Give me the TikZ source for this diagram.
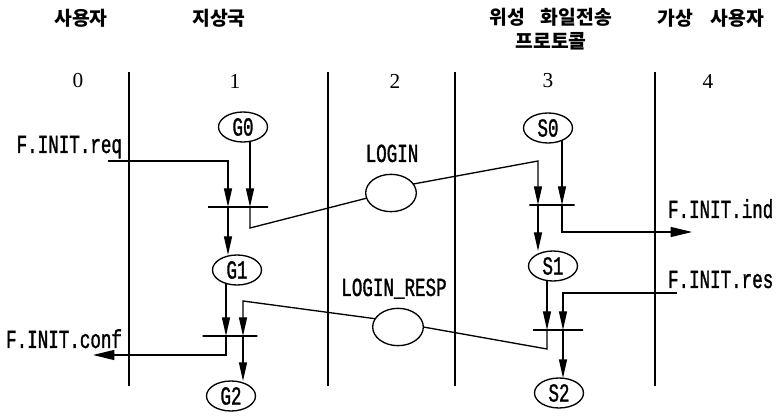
\documentclass[tikz,border=0pt]{standalone}
\usepackage{fontspec}
\usetikzlibrary{arrows.meta,shapes.geometric,backgrounds}

\newfontfamily\kofont{Noto Sans CJK KR}
\newfontfamily\sigfont{Liberation Mono}[FakeStretch=0.675, FakeBold=1.2]
\newfontfamily\numfont{Liberation Serif}

\begin{document}
\begin{tikzpicture}[
  x=0.75pt,
  y=-0.75pt,
  every node/.style={inner sep=0pt, outer sep=0pt},
  head/.style={font=\kofont\bfseries\fontsize{14.5}{17.5}\selectfont, align=center},
  colnum/.style={font=\numfont\fontsize{16}{18}\selectfont},
  sig/.style={font=\sigfont\fontsize{19.5}{21}\selectfont},
  state/.style={draw, ellipse, fill=white, line width=1pt, minimum width=36.75pt, minimum height=22.5pt,
    font=\sigfont\fontsize{19.5}{21}\selectfont},
  msg/.style={draw, ellipse, fill=white, line width=1pt, minimum width=38pt, minimum height=28pt},
  tbar/.style={draw, line width=1pt, minimum height=0pt, minimum width=#1},
  lane/.style={line width=1pt},
  link/.style={line width=1pt},
  flow/.style={link, -{Triangle[length=14pt, width=6pt]}},
  outflow/.style={link, -{Triangle[length=16pt, width=7.5pt]}}
]

  \path[use as bounding box] (0,0) rectangle (779,417);

  % swim lanes
  \foreach \x in {129,328,455,655}
    \draw[lane] (\x,72) -- (\x,386);

  % column headers
  \node[head] (hUser) at (81,18) {사용자};
  \node[head] (hGround) at (219,18) {지상국};
  \node[head] (hProto) at (551,29) {위성\hspace{0.8em}화일전송\\프로토콜};
  \node[head] (hVirtual) at (711,18) {가상\hspace{0.9em}사용자};

  \foreach \x/\n in {78/0,235/1,395/2,548/3,708/4}
    \node[colnum] (col\n) at (\x,81) {\n};

  % ground station states
  \node[state] (G0) at (243,127) {G0};
  \node[state] (G1) at (237,270) {G1};
  \node[state] (G2) at (231,396) {G2};

  % protocol states
  \node[state] (S0) at (548,128) {S0};
  \node[state] (S1) at (553,266) {S1};
  \node[state] (S2) at (559,393) {S2};

  % PDUs on the link
  \node[msg] (login) at (391,193) {};
  \node[sig, anchor=base] (loginTxt) at (392,162) {LOGIN};
  \node[msg] (loginResp) at (398,327) {};
  \node[sig, anchor=base] (loginRespTxt) at (394,296) {LOGIN\_RESP};

  % transition bars
  \node[tbar=45pt] (tG1) at (238,207) {};
  \node[tbar=41pt] (tG2) at (230,336) {};
  \node[tbar=34pt] (tS1) at (552,205) {};
  \node[tbar=37.5pt] (tS2) at (558,330) {};

  \coordinate (tG1a) at (228,207);
  \coordinate (tG1b) at (250,207);
  \coordinate (tG2a) at (226,336);
  \coordinate (tG2b) at (243,336);
  \coordinate (tS1a) at (538,205);
  \coordinate (tS1b) at (562,205);
  \coordinate (tS2a) at (547,330);
  \coordinate (tS2b) at (563,330);

  % service primitives
  \node[sig, anchor=base east] (req) at (122,153) {F.INIT.req};
  \node[sig, anchor=base east] (conf) at (122,348) {F.INIT.conf};
  \node[sig, anchor=base west] (ind) at (668,218) {F.INIT.ind};
  \node[sig, anchor=base west] (res) at (668,288) {F.INIT.res};

  \coordinate (reqIn) at (108,161);
  \coordinate (confOut) at (93,355);
  \coordinate (indOut) at (692,232);
  \coordinate (resIn) at (677,293);
  \coordinate (loginBend) at (538,161);
  \coordinate (respBend) at (243,301);

  \begin{scope}[on background layer]
    % G0 -> G1
    \draw[flow] (reqIn) -| (tG1a);
    \draw[flow] (G0 -| tG1b) -- (tG1b);
    \draw[flow] (tG1a) -- (G1.north -| tG1a);
    \draw[link] (tG1b) -- ++(0,21) -- (login.192);

    % S0 -> S1
    \draw[flow] (login.22) -- (loginBend) -- (tS1a);
    \draw[flow] (S0 -| tS1b) -- (tS1b);
    \draw[flow] (tS1a) -- (S1.north -| tS1a);
    \draw[outflow] (tS1b) |- (indOut);

    % S1 -> S2
    \draw[flow] (S1 -| tS2a) -- (tS2a);
    \draw[flow] (resIn) -| (tS2b);
    \draw[flow] (tS2b) -- (S2.north -| tS2b);
    \draw[link] (tS2a) -- ++(0,19) -- (loginResp.east);

    % G1 -> G2
    \draw[flow] (G1 -| tG2a) -- (tG2a);
    \draw[flow] (loginResp.160) -- (respBend) -- (tG2b);
    \draw[flow] (tG2b) -- (G2.north -| tG2b);
    \draw[outflow] (tG2a) |- (confOut);
  \end{scope}

\end{tikzpicture}
\end{document}
